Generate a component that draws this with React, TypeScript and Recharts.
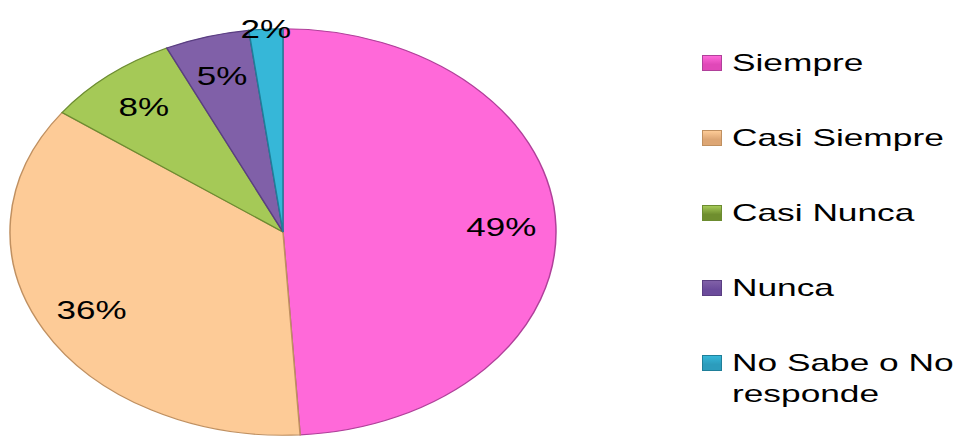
import { PieChart, Pie, Cell } from "recharts";

const categories = ["Siempre", "Casi Siempre", "Casi Nunca", "Nunca", "No Sabe o No responde"];
const values = [49, 36, 8, 5, 2];
const fills = ["#FF69D9", "#FDCB97", "#A5C957", "#8060A8", "#36B7D8"];
const edges = ["#B0409A", "#C09060", "#6C8C30", "#5A3E82", "#1F7F99"];
const iconFills = ["#E048B8", "#DDA674", "#6F8E2E", "#6B4B9B", "#2C9CBC"];

const data = categories.map((name, i) => ({ name, value: values[i] }));

const R = 274;
const RY = 204;
const SY = RY / R;
const PAD = 40;
const FONT = "'Liberation Sans', Arial, sans-serif";
const RAD = Math.PI / 180;

function renderLabel(props: any) {
  const { cx, cy, midAngle, outerRadius, percent } = props;
  const f = percent < 0.03 ? 1.0 : 0.8;
  const x = cx + outerRadius * f * Math.cos(-midAngle * RAD);
  const y = cy + outerRadius * f * Math.sin(-midAngle * RAD);
  return (
    <text
      transform={`translate(${x} ${y}) scale(1.4 ${1 / SY})`}
      x={0}
      y={0}
      textAnchor="middle"
      dominantBaseline="central"
      fontFamily={FONT}
      fontSize={25}
      fill="#000"
    >
      {`${Math.round(percent * 100)}%`}
    </text>
  );
}

function LegendBox() {
  return (
    <div style={{ position: "absolute", left: 702, top: 47, fontFamily: FONT, fontSize: 24, color: "#000" }}>
      {categories.map((c, i) => (
        <div key={c} style={{ display: "flex", alignItems: "flex-start", height: 75 }}>
          <div
            style={{
              width: 18,
              height: 14,
              marginTop: 8,
              marginRight: 10,
              background: `linear-gradient(180deg, ${fills[i]} 0%, ${iconFills[i]} 60%)`,
              border: `1px solid ${edges[i]}`,
              flexShrink: 0,
            }}
          />
          <div style={{ width: 160, lineHeight: "31px", transform: "scaleX(1.47)", transformOrigin: "left top" }}>{c}</div>
        </div>
      ))}
    </div>
  );
}

export default function App() {
  return (
    <div style={{ position: "fixed", left: 0, top: 0, width: 957, height: 437, overflow: "hidden", background: "#fff" }}>
      <div
        style={{
          position: "absolute",
          left: 283 - R - PAD,
          top: 232 - R - PAD,
          width: 2 * (R + PAD),
          height: 2 * (R + PAD),
          transform: `scaleY(${SY})`,
          transformOrigin: "center center",
        }}
      >
        <PieChart width={2 * (R + PAD)} height={2 * (R + PAD)} margin={{ top: 0, right: 0, bottom: 0, left: 0 }}>
          <Pie
            data={data}
            dataKey="value"
            nameKey="name"
            cx={R + PAD}
            cy={R + PAD}
            outerRadius={R - 1}
            startAngle={90}
            endAngle={-270}
            label={renderLabel}
            labelLine={false}
            isAnimationActive={false}
          >
            {data.map((d, i) => (
              <Cell key={d.name} fill={fills[i]} stroke={edges[i]} strokeWidth={1.5} />
            ))}
          </Pie>
        </PieChart>
      </div>
      <LegendBox />
    </div>
  );
}
